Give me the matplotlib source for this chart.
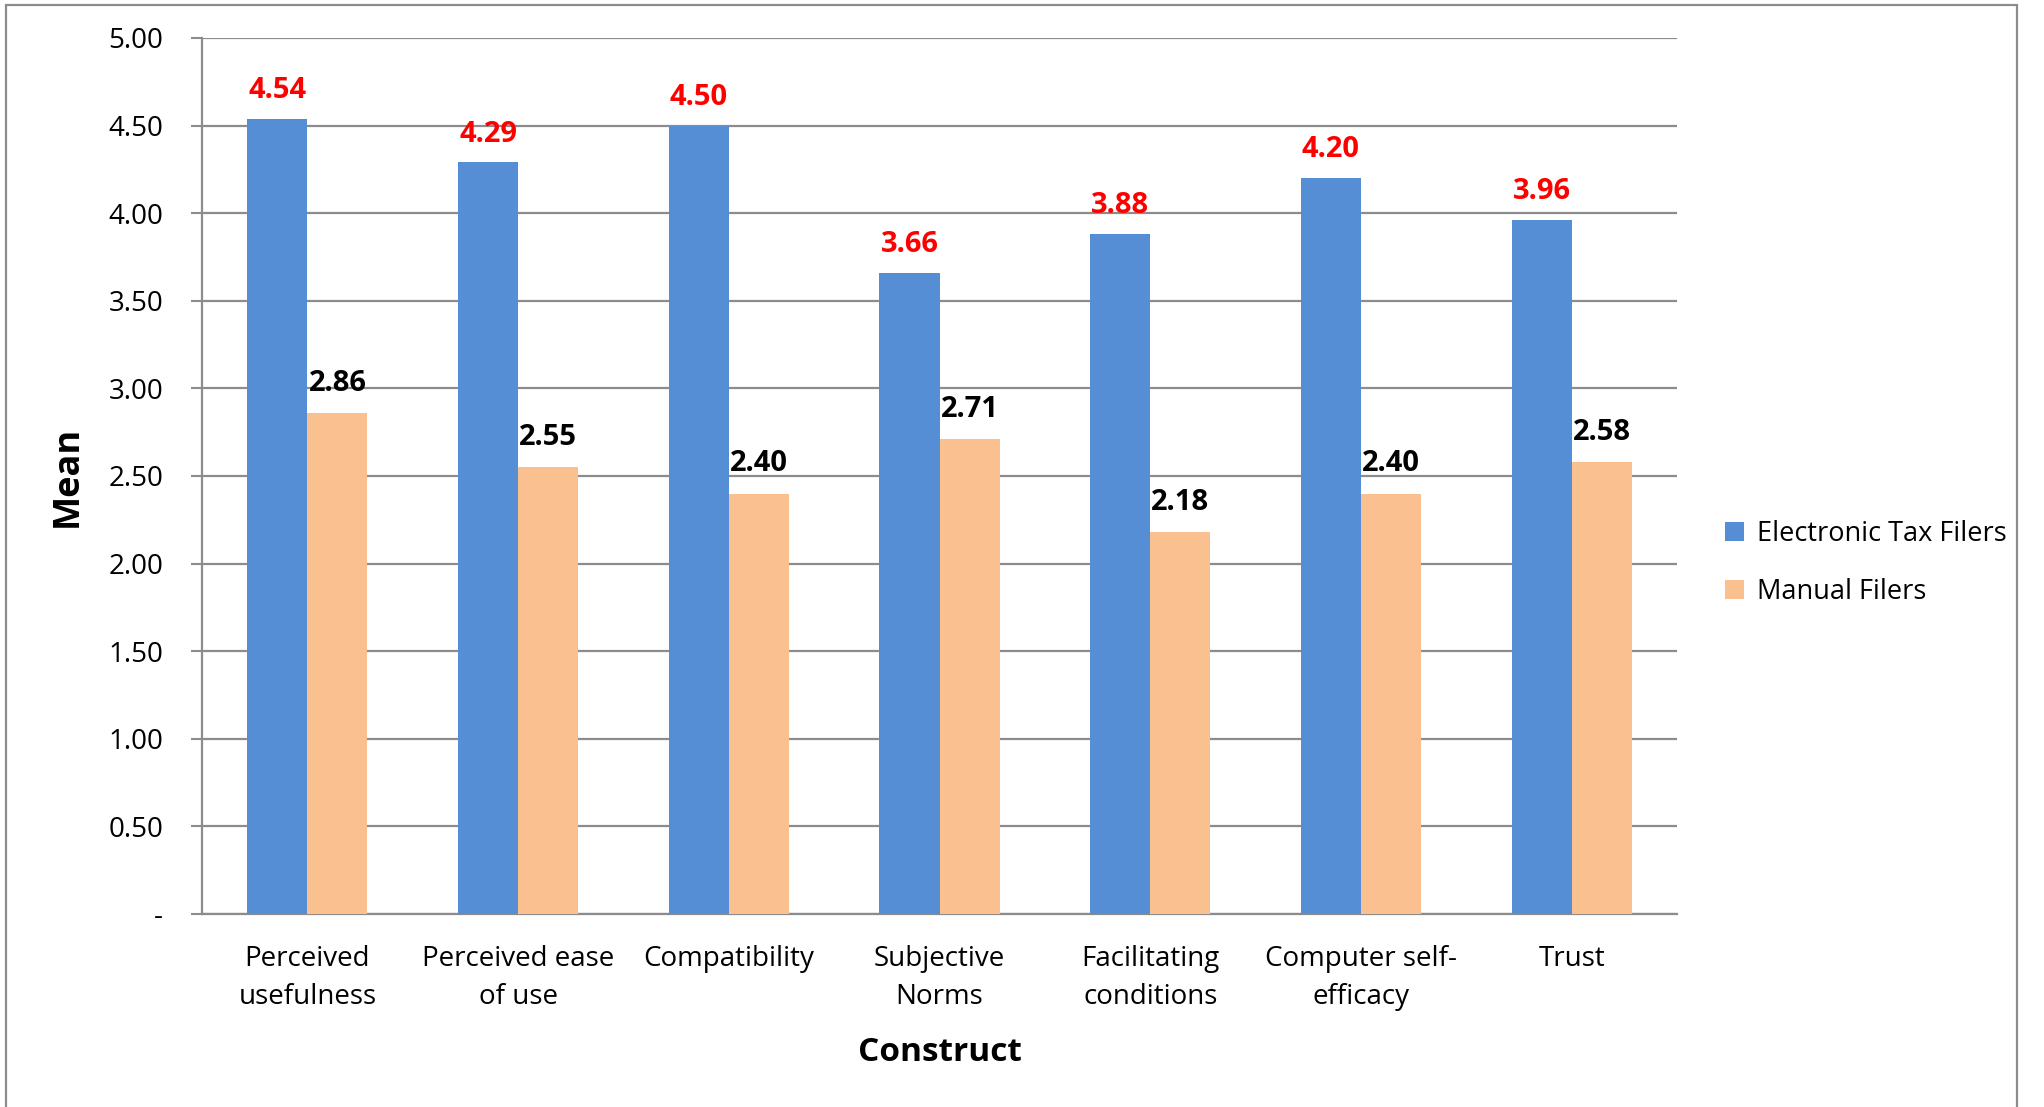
import matplotlib
matplotlib.use("Agg")
import matplotlib.pyplot as plt
from matplotlib.patches import Rectangle
import numpy as np

categories = ["Perceived\nusefulness", "Perceived ease\nof use", "Compatibility",
              "Subjective\nNorms", "Facilitating\nconditions", "Computer self-\nefficacy", "Trust"]
electronic = [4.54, 4.29, 4.50, 3.66, 3.88, 4.20, 3.96]
manual = [2.86, 2.55, 2.40, 2.71, 2.18, 2.40, 2.58]
yticks = [0, 0.5, 1.0, 1.5, 2.0, 2.5, 3.0, 3.5, 4.0, 4.5, 5.0]

plt.rcParams["font.family"] = ["Open Sans", "DejaVu Sans"]

W, H = 2044, 1107
fig = plt.figure(figsize=(W / 100, H / 100), dpi=100)
ax = fig.add_axes([202 / W, 1 - 914 / H, (1677 - 202) / W, (914 - 38) / H])

grey = "#8c8c8c"
blue = "#558ED5"
orange = "#FAC090"

x = np.arange(len(categories))
bw = 0.285
b1 = ax.bar(x - bw / 2, electronic, bw, color=blue, label="Electronic Tax Filers", zorder=3)
b2 = ax.bar(x + bw / 2, manual, bw, color=orange, label="Manual Filers", zorder=3)

for rect, v in zip(b1, electronic):
    ax.annotate(f"{v:.2f}", (rect.get_x() + rect.get_width() / 2, v), xytext=(0, 10),
                textcoords="offset points", ha="center", va="bottom",
                color="#FF0000", fontsize=21, fontweight="bold")
for rect, v in zip(b2, manual):
    ax.annotate(f"{v:.2f}", (rect.get_x() + rect.get_width() / 2, v), xytext=(0, 11),
                textcoords="offset points", ha="center", va="bottom",
                color="black", fontsize=21, fontweight="bold")

ax.set_xlim(-0.5, len(categories) - 0.5)
ax.set_ylim(0, 5)
ax.set_yticks(yticks)
ax.set_yticklabels(["-" if t == 0 else f"{t:.2f}" for t in yticks], fontsize=20)
ax.set_xticks(x)
ax.set_xticklabels(categories, fontsize=20, linespacing=1.48)
ax.tick_params(axis="x", length=0, pad=22)
ax.tick_params(axis="y", length=8, width=1.5, color=grey, pad=20)

ax.yaxis.grid(True, color=grey, linewidth=1.6, zorder=0)
ax.set_axisbelow(True)
for s in ["top", "right"]:
    ax.spines[s].set_visible(False)
for s in ["left", "bottom"]:
    ax.spines[s].set_color(grey)
    ax.spines[s].set_linewidth(1.6)

ax.set_ylabel("Mean", fontsize=26, fontweight="bold", labelpad=16)
ax.set_xlabel("Construct", fontsize=24, fontweight="bold", labelpad=18)

leg = fig.legend(handles=[b1, b2], loc="upper left", bbox_to_anchor=(1701 / W, 1 - 496 / H),
                 frameon=False, fontsize=19.5, handlelength=0.7, handleheight=0.7,
                 handletextpad=0.45, labelspacing=1.1)

# outer chart border
fig.patches.append(Rectangle((6 / W, -0.05), (2017 - 6) / W, 1.05 - 5 / H,
                             transform=fig.transFigure, fill=False,
                             edgecolor=grey, linewidth=1.6))

fig.savefig("out.png", dpi=100)
